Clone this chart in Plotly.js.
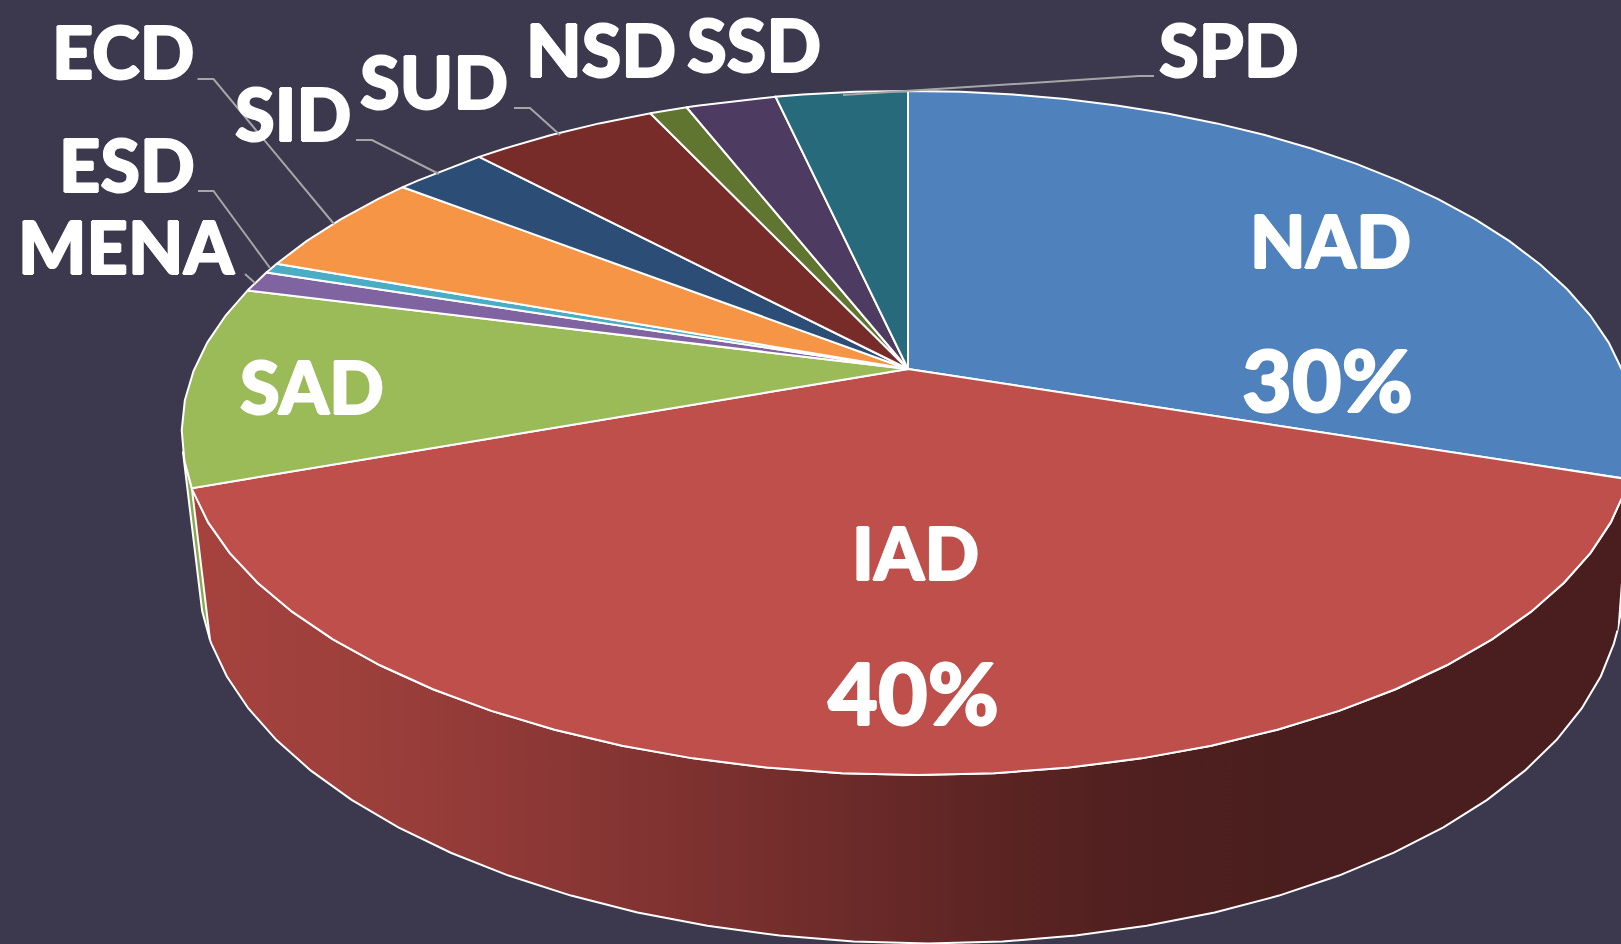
<!DOCTYPE html>
<html><head><meta charset="utf-8">
<script src="https://cdn.plot.ly/plotly-3.0.1.min.js"></script>
<style>html,body{margin:0;padding:0;background:#3c384e;overflow:hidden}</style>
</head><body><div id="chart" style="width:1621px;height:944px"></div>
<script>
// Data
const categories = ['NAD','IAD','SAD','MENA','ESD','ECD','SID','SUD','NSD','SSD','SPD'];
const shares     = [30, 39.6, 9.5, 1, 0.5, 5, 2.5, 5, 1, 2.4, 3.5];
const percentLabels = {NAD:'30%', IAD:'40%'};

// Styles
const sliceColors = ['#4F81BD','#BE4F4B','#9BBB59','#8064A2','#4BACC6','#F59545','#2C4D75','#772C2A','#5F7530','#4D3B62','#276A7C'];
const bg = '#3c384e';
const labelPos = {NAD:[1330,240],IAD:[915,552],SAD:[312,386],MENA:[127,246],ESD:[126.5,164],ECD:[123,51],
                  SID:[293,113],SUD:[434,81],NSD:[601,49],SSD:[754,44],SPD:[1229,49]};
const percentPos = {NAD:[1327,378],IAD:[913,691]};
const leaders = [
  [[1154,76],[1139,76],[843,95]],
  [[197.5,79],[213.5,79],[334,224]],
  [[198,191],[213.5,191],[270,268]],
  [[245,274],[255,283]],
  [[356,140],[372,140],[439,174]],
  [[514,108],[530,108],[560,135]]
];

// Perspective projection of the pie disc
const cx=908, cy=369, k=0.1813;
const top_ = {a:714.5,b:330.8,c:371}, low={a:700,b:350,c:516};
function P(deg,g){const t=deg*Math.PI/180,u=Math.sin(t),v=Math.cos(t),w=1+k*v;
  const y=g.c-g.b*v/w, d=Math.max(0,(y-cy)/404);
  return [cx+g.a*u/w+10*d*d, y];}
function arc(a0,a1,g){const s=5,pts=[P(a0,g)],dir=a1>a0?1:-1;
  let n=dir>0?Math.floor(a0/s)+1:Math.ceil(a0/s)-1;
  for(;dir>0?n*s<a1:n*s>a1;n+=dir) pts.push(P(n*s,g));
  pts.push(P(a1,g));return pts;}
function poly(pts,color,extra){return Object.assign({type:'scatter',mode:'lines',x:pts.map(p=>p[0]),y:pts.map(p=>p[1]),
  fill:'toself',fillcolor:color,line:{color:'#ffffff',width:2},hoverinfo:'skip',showlegend:false},extra||{});}

const total=shares.reduce((a,b)=>a+b,0);
let acc=0; const bounds=shares.map(v=>{const s=acc*360/total;acc+=v;return [s,acc*360/total];});

const traces=[];
const bN=bounds[0][1], bS=bounds[2][0];
traces.push(poly(arc(bN-7,bN,top_).concat(arc(bN,bN-7,low)),'#3a5c8a'));
traces.push(poly(arc(bS,bS+6,top_).concat(arc(bS+6,bS,low)),'#8aa84f'));
const wall=arc(bN,bS,top_).concat(arc(bS,bN,low));
traces.push(poly(wall,'#8a3a38',{fillgradient:{type:'horizontal',start:205,stop:1300,
  colorscale:[[0,'#a5423e'],[0.15,'#9c3f3b'],[0.3,'#8d3836'],[0.5,'#772f2d'],[0.7,'#5e2524'],[0.85,'#501f1f'],[1,'#4a1e1e']]}}));
categories.forEach((c,i)=>{
  const [a0,a1]=bounds[i];
  traces.push(poly([[cx,cy]].concat(arc(a0,a1,top_),[[cx,cy]]),sliceColors[i],{name:c}));
});
leaders.forEach(l=>traces.push({type:'scatter',mode:'lines',x:l.map(p=>p[0]),y:l.map(p=>p[1]),
  line:{color:'#a6a6a6',width:2},hoverinfo:'skip',showlegend:false}));

const stroke='0.9px 0 0 #fff,-0.9px 0 0 #fff,0 0.9px 0 #fff,0 -0.9px 0 #fff';
const font={family:'Lato, sans-serif',size:72,color:'#ffffff',weight:900,shadow:stroke};
const pctFont={family:'Lato, sans-serif',size:86,color:'#ffffff',weight:900,shadow:stroke};
const ann=[];
categories.forEach(c=>{const p=labelPos[c];ann.push({x:p[0],y:p[1],xref:'x',yref:'y',text:c,showarrow:false,font,xanchor:'center',yanchor:'middle'});});
Object.keys(percentLabels).forEach(c=>{const p=percentPos[c];ann.push({x:p[0],y:p[1],xref:'x',yref:'y',text:percentLabels[c],showarrow:false,font:pctFont,xanchor:'center',yanchor:'middle'});});

Plotly.newPlot('chart',traces,{
  width:1621,height:944,margin:{l:0,r:0,t:0,b:0},paper_bgcolor:bg,plot_bgcolor:bg,showlegend:false,
  xaxis:{range:[0,1621],visible:false,fixedrange:true},
  yaxis:{range:[944,0],visible:false,fixedrange:true},
  annotations:ann
},{displayModeBar:false,staticPlot:true});
</script></body></html>
